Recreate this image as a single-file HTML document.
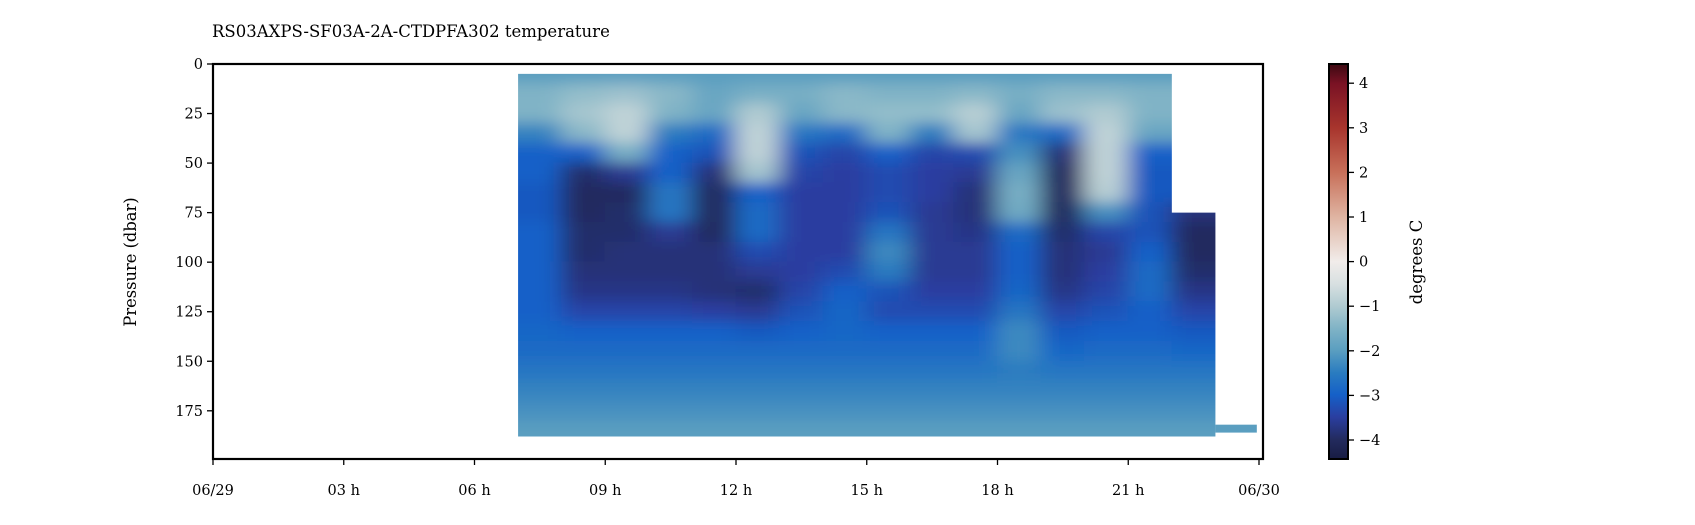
<!DOCTYPE html>
<html><head><meta charset="utf-8"><style>
html,body{margin:0;padding:0;background:#fff;}
svg{display:block;font-family:"DejaVu Serif","Liberation Serif",serif;}
</style></head><body>
<svg id="chart" width="1695" height="525" viewBox="0 0 1695 525" xmlns="http://www.w3.org/2000/svg">
<defs>
<clipPath id="plotclip"><rect x="213" y="64" width="1050" height="395"/></clipPath>
<filter id="soft" x="400" y="0" width="900" height="525" filterUnits="userSpaceOnUse">
<feGaussianBlur stdDeviation="12 7"/>
</filter>
<linearGradient id="cbgrad" x1="0" y1="1" x2="0" y2="0"></linearGradient>
</defs>
<text x="212" y="37" font-size="16.5">RS03AXPS-SF03A-2A-CTDPFA302 temperature</text>
<g id="heat" clip-path="url(#plotclip)"></g>
<rect x="213" y="64" width="1050" height="395" fill="none" stroke="#000" stroke-width="2.2"/>
<g id="xaxis"></g>
<g id="yaxis"></g>
<text transform="translate(136,262) rotate(-90)" text-anchor="middle" font-size="16.3">Pressure (dbar)</text>
<rect x="1329" y="64" width="19" height="395" fill="url(#cbgrad)" stroke="#000" stroke-width="2"/>
<g id="cbaxis"></g>
<text transform="translate(1422,262) rotate(-90)" text-anchor="middle" font-size="16.5">degrees C</text>
</svg>
<script>
const hours=[7,8,9,10,11,12,13,14,15,16,17,18,19,20,21,22];
const depths=[5,15,25,35,45,55,65,75,85,95,105,115,125,135,145,155,165,175,185];
const temps=[
[-2,-1.5,-1.5,-2.4,-3,-3,-3.1,-3.1,-3,-3,-3,-3,-3,-2.9,-2.8,-2.6,-2.4,-2.2,-2],
[-2,-1.3,-1.1,-1.4,-3,-3.9,-4,-4,-3.9,-3.9,-3.8,-3.7,-3.4,-3,-2.8,-2.6,-2.4,-2.2,-2],
[-2,-1.2,-0.8,-0.8,-1.6,-3.6,-4,-3.9,-3.9,-3.8,-3.8,-3.7,-3.4,-3,-2.8,-2.6,-2.4,-2.2,-2],
[-2,-1.4,-1.5,-2.5,-3,-3,-2.6,-2.6,-3.6,-3.8,-3.8,-3.7,-3.4,-3,-2.8,-2.6,-2.4,-2.2,-2],
[-2,-1.8,-1.8,-2.8,-3.2,-3.8,-4,-4,-4,-3.8,-3.8,-3.8,-3.5,-3,-2.8,-2.6,-2.4,-2.2,-2],
[-2,-1.6,-1.0,-0.8,-0.8,-1.1,-3,-2.8,-2.8,-3.3,-3.6,-3.9,-3.6,-3.1,-2.8,-2.6,-2.4,-2.2,-2],
[-2,-1.6,-1.8,-2.6,-3.2,-3.4,-3.5,-3.5,-3.5,-3.5,-3.5,-3.4,-3.2,-3,-2.8,-2.6,-2.4,-2.2,-2],
[-2,-1.4,-1.4,-2.8,-3.4,-3.5,-3.5,-3.5,-3.5,-3.5,-3.3,-3,-2.9,-2.9,-2.8,-2.6,-2.4,-2.2,-2],
[-2,-1.5,-1.3,-1.5,-3,-3.3,-3.3,-3.2,-2.6,-2.3,-2.5,-3.2,-3.3,-3,-2.8,-2.6,-2.4,-2.2,-2],
[-2,-1.5,-1.3,-2.5,-3.4,-3.5,-3.5,-3.6,-3.6,-3.6,-3.6,-3.5,-3.3,-3,-2.8,-2.6,-2.4,-2.2,-2],
[-2,-1.4,-0.9,-1.1,-3.3,-3.6,-3.8,-3.8,-3.7,-3.6,-3.6,-3.5,-3.3,-3,-2.8,-2.6,-2.4,-2.2,-2],
[-2,-1.6,-1.8,-2.6,-2.2,-1.8,-1.6,-1.7,-2.8,-3,-3,-2.9,-2.6,-2.3,-2.3,-2.5,-2.4,-2.2,-2],
[-2,-1.4,-1.2,-2.8,-3.8,-4,-4,-4,-3.9,-3.8,-3.8,-3.7,-3.4,-3.1,-2.9,-2.6,-2.4,-2.2,-2],
[-2,-1.4,-1.0,-0.8,-0.8,-0.8,-0.9,-2.2,-3.4,-3.6,-3.5,-3.4,-3.2,-3,-2.8,-2.6,-2.4,-2.2,-2],
[-2,-1.5,-1.5,-1.8,-3,-3.1,-3.1,-3.2,-3.2,-3,-2.8,-2.8,-3,-3,-2.8,-2.6,-2.4,-2.2,-2],
[null,null,null,null,null,null,null,-3.8,-4,-4,-3.9,-3.7,-3.4,-3.1,-2.9,-2.6,-2.4,-2.2,-2]
];
const xTickHours=[0,3,6,9,12,15,18,21,24];
const xTickLabels=["06/29","03 h","06 h","09 h","12 h","15 h","18 h","21 h","06/30"];
const yTicks=[0,25,50,75,100,125,150,175];
const cbTicks=[-4,-3,-2,-1,0,1,2,3,4];
const cmapVals=[-4.44,-4,-3.5,-3,-2.5,-2,-1.5,-1,-0.5,0,1,2,3,4,4.44];
const cmapCols=["#181c43","#232b5e","#2a3ea0","#1560c8","#2a7cc0","#5a9ec0","#80b3c6","#b0cbd1","#d8e0e1","#f1ecea","#dfb4a2","#c8705a","#a8352d","#7a1224","#3c0912"];

const NS="http://www.w3.org/2000/svg";
const X=h=>213+h*(1259-213)/24;
const Y=p=>64+p*(410.8-64)/175;
const C=v=>261.6-v*44.6;
function hex(c){return [1,3,5].map(i=>parseInt(c.substr(i,2),16));}
function color(v){
  if(v<=cmapVals[0])return cmapCols[0];
  for(let i=1;i<cmapVals.length;i++){
    if(v<=cmapVals[i]){
      const t=(v-cmapVals[i-1])/(cmapVals[i]-cmapVals[i-1]);
      const a=hex(cmapCols[i-1]),b=hex(cmapCols[i]);
      return "rgb("+a.map((x,k)=>Math.round(x+(b[k]-x)*t)).join(",")+")";
    }
  }
  return cmapCols[cmapCols.length-1];
}
function mk(tag,attrs,parent){const e=document.createElementNS(NS,tag);for(const k in attrs)e.setAttribute(k,attrs[k]);parent.appendChild(e);return e;}

// heatmap
const heat=document.getElementById('heat');
const cp=mk('clipPath',{id:'dataclip'},document.querySelector('defs'));
mk('rect',{x:X(hours[0]),y:Y(5),width:X(hours[14]+1)-X(hours[0]),height:Y(188)-Y(5)},cp);
mk('rect',{x:X(hours[15]),y:Y(75),width:X(hours[15]+1)-X(hours[15]),height:Y(188)-Y(75)},cp);
const clipG=mk('g',{'clip-path':'url(#dataclip)'},heat);
const blurG=mk('g',{filter:'url(#soft)'},clipG);
const PAD=40;
hours.forEach((h,i)=>{
  depths.forEach((d,j)=>{
    let v=temps[i][j];
    if(v===null) v=temps[i-1][j];
    let x0=X(h)-0.5,x1=X(h+1)+0.5,y0=Y(d-5)-0.5,y1=Y(d+5)+0.5;
    if(i===0)x0-=PAD;
    if(i===hours.length-1)x1+=PAD;
    if(j===0)y0-=PAD;
    if(j===depths.length-1)y1+=PAD;
    const r=mk('rect',{x:x0,y:y0,width:x1-x0,height:y1-y0,fill:color(v)},blurG);
    
    
  });
});
const strip=mk('rect',{x:X(23),y:Y(182),width:X(23.95)-X(23),height:Y(186)-Y(182),fill:color(-2)},heat);



// x axis
const xa=document.getElementById('xaxis');
xTickHours.forEach((h,i)=>{
  const t=mk('line',{x1:X(h),x2:X(h),y1:459,y2:465,stroke:'#000','stroke-width':1.3},xa);
  
  
  const l=mk('text',{x:X(h),y:495,'text-anchor':'middle','font-size':14.5},xa);
  l.textContent=xTickLabels[i];
  
  
});
// y axis
const ya=document.getElementById('yaxis');
yTicks.forEach(p=>{
  const t=mk('line',{x1:207,x2:213,y1:Y(p),y2:Y(p),stroke:'#000','stroke-width':1.3},ya);
  
  
  const l=mk('text',{x:203,y:Y(p)+5,'text-anchor':'end','font-size':14.5},ya);
  l.textContent=String(p);
  
  
});
// colorbar
const g=document.getElementById('cbgrad');
const lo=cmapVals[0],hi=cmapVals[cmapVals.length-1];
cmapVals.forEach((v,i)=>mk('stop',{offset:((v-lo)/(hi-lo)*100)+'%','stop-color':cmapCols[i]},g));
const ca=document.getElementById('cbaxis');
cbTicks.forEach(v=>{
  const t=mk('line',{x1:1348,x2:1354,y1:C(v),y2:C(v),stroke:'#000','stroke-width':1.3},ca);
  
  
  const l=mk('text',{x:1359,y:C(v)+5,'font-size':14.5},ca);
  l.textContent=v<0?'\u2212'+Math.abs(v):String(v);
  
  
});
</script>
</body></html>
